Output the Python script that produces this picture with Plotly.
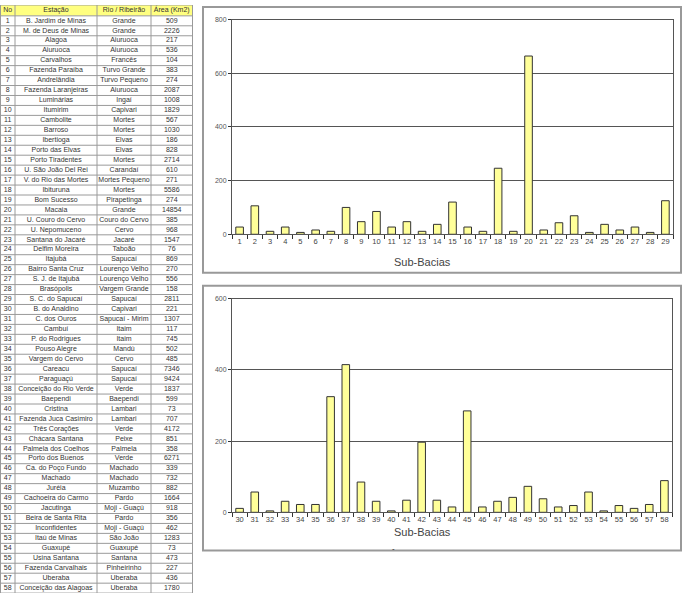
import plotly.graph_objects as go

no = list(range(1, 59))
estacao = ["B. Jardim de Minas", "M. de Deus de Minas", "Alagoa", "Aiuruoca", "Carvalhos",
           "Fazenda Paraíba", "Andrelândia", "Fazenda Laranjeiras", "Luminárias", "Itumirim",
           "Cambolite", "Barroso", "Ibertioga", "Porto das Elvas", "Porto Tiradentes",
           "U. São João Del Rei", "V. do Rio das Mortes", "Ibituruna", "Bom Sucesso", "Macaia",
           "U. Couro do Cervo", "U. Nepomuceno", "Santana do Jacaré", "Delfim Moreira", "Itajubá",
           "Bairro Santa Cruz", "S. J. de Itajubá", "Brasópolis", "S. C. do Sapucaí", "B. do Analdino",
           "C. dos Ouros", "Cambuí", "P. do Rodrigues", "Pouso Alegre", "Vargem do Cervo",
           "Careacu", "Paraguaçú", "Conceição do Rio Verde", "Baependi", "Cristina",
           "Fazenda Juca Casimiro", "Três Corações", "Chácara Santana", "Palmela dos Coelhos", "Porto dos Buenos",
           "Ca. do Poço Fundo", "Machado", "Juréia", "Cachoeira do Carmo", "Jacutinga",
           "Beira de Santa Rita", "Inconfidentes", "Itaú de Minas", "Guaxupé", "Usina Santana",
           "Fazenda Carvalhais", "Uberaba", "Conceição das Alagoas"]
rio = ["Grande", "Grande", "Aiuruoca", "Aiuruoca", "Francês",
       "Turvo Grande", "Turvo Pequeno", "Aiuruoca", "Ingaí", "Capivari",
       "Mortes", "Mortes", "Elvas", "Elvas", "Mortes",
       "Carandaí", "Mortes Pequeno", "Mortes", "Pirapetinga", "Grande",
       "Couro do Cervo", "Cervo", "Jacaré", "Taboão", "Sapucaí",
       "Lourenço Velho", "Lourenço Velho", "Vargem Grande", "Sapucaí", "Capivari",
       "Sapucaí - Mirim", "Itaim", "Itaim", "Mandú", "Cervo",
       "Sapucaí", "Sapucaí", "Verde", "Baependi", "Lambari",
       "Lambari", "Verde", "Peixe", "Palmela", "Verde",
       "Machado", "Machado", "Muzambo", "Pardo", "Moji - Guaçú",
       "Pardo", "Moji - Guaçú", "São João", "Guaxupé", "Santana",
       "Pinheirinho", "Uberaba", "Uberaba"]
area = [509, 2226, 217, 536, 104, 383, 274, 2087, 1008, 1829,
        567, 1030, 186, 828, 2714, 610, 271, 5586, 274, 14854,
        385, 968, 1547, 76, 869, 270, 556, 158, 2811, 221,
        1307, 117, 745, 502, 485, 7346, 9424, 1837, 599, 73,
        707, 4172, 851, 358, 6271, 339, 732, 882, 1664, 918,
        356, 462, 1283, 73, 473, 227, 436, 1780]
headers = ["No", "Estação", "Rio / Ribeirão", "Área (Km2)"]

sub1 = [str(i) for i in range(1, 30)]
val1 = [27, 106, 11, 27, 7, 16, 11, 100, 47, 85,
        27, 47, 11, 37, 120, 27, 11, 246, 11, 664,
        16, 43, 69, 7, 37, 16, 27, 7, 125]
sub2 = [str(i) for i in range(30, 59)]
val2 = [11, 57, 4, 31, 22, 22, 325, 415, 85, 31,
        4, 34, 197, 34, 15, 285, 15, 31, 42, 73,
        38, 15, 19, 57, 4, 19, 11, 22, 89]

W, H = 685, 600
FONT = "Arial, Liberation Sans, sans-serif"

def px(x):
    return x / W

def py(y):
    return 1 - y / H

# table geometry (in pixel-like units of its own axes)
HDR = 11.0
ROW = 10.07
col_edges = [0.5, 15, 97, 151, 192.5]
n = len(no)
tbl_h = HDR + n * ROW
TOP = 1.0
col_centers = [(col_edges[i] + col_edges[i + 1]) / 2 for i in range(4)]
row_centers = [HDR + (i + 0.5) * ROW for i in range(n)]

fig = go.Figure()

cell_font = dict(family=FONT, size=7, color="#333")
for ci, col in enumerate([no, estacao, rio, area]):
    fig.add_trace(go.Scatter(x=[col_centers[ci]] * n, y=row_centers, text=[str(v) for v in col],
                             mode="text", textposition="middle center", textfont=cell_font,
                             xaxis="x3", yaxis="y3", hoverinfo="skip"))
fig.add_trace(go.Scatter(x=col_centers, y=[HDR / 2] * 4, text=headers, mode="text",
                         textposition="middle center", textfont=cell_font,
                         xaxis="x3", yaxis="y3", hoverinfo="skip"))

bar_style = dict(marker=dict(color="#FFFF99", line=dict(color="#333333", width=1)))
fig.add_trace(go.Bar(x=sub1, y=val1, xaxis="x", yaxis="y", **bar_style))
fig.add_trace(go.Bar(x=sub2, y=val2, xaxis="x2", yaxis="y2", **bar_style))

shapes = [
    dict(type="rect", xref="x3", yref="y3", x0=col_edges[0], x1=col_edges[-1], y0=0, y1=HDR,
         fillcolor="#FFFF80", line=dict(width=0), layer="below"),
]
line_style = dict(color="#9a9a9a", width=1)
for k in range(n + 2):
    yy = 0 if k == 0 else HDR + (k - 1) * ROW
    shapes.append(dict(type="line", xref="x3", yref="y3", x0=col_edges[0], x1=col_edges[-1],
                       y0=yy, y1=yy, line=line_style))
for xe in col_edges:
    shapes.append(dict(type="line", xref="x3", yref="y3", x0=xe, x1=xe, y0=0, y1=tbl_h,
                       line=line_style))
shapes += [
    dict(type="rect", xref="paper", yref="paper", x0=px(203), x1=px(681), y0=py(3), y1=py(272),
         line=dict(color="#999999", width=2)),
    dict(type="rect", xref="paper", yref="paper", x0=px(203), x1=px(681), y0=py(285), y1=py(553),
         line=dict(color="#999999", width=2)),
]

xcommon = dict(type="category", tickson="boundaries", ticks="outside", ticklen=4, tickcolor="#333",
               showline=True, linecolor="#555", mirror=True, showgrid=False, tickangle=0,
               tickfont=dict(family=FONT, size=7.5, color="#444"), fixedrange=True)
ycommon = dict(dtick=200, ticks="outside", ticklen=3, tickcolor="#333", showline=True,
               linecolor="#555", mirror=True, showgrid=True, gridcolor="#555", gridwidth=1,
               tickfont=dict(family=FONT, size=7, color="#555"), zeroline=False, fixedrange=True)

fig.update_layout(
    width=W, height=H, margin=dict(l=0, r=0, t=0, b=0),
    paper_bgcolor="white", plot_bgcolor="white", showlegend=False, bargap=0.5,
    xaxis=dict(domain=[px(232), px(673)], anchor="y", **xcommon),
    yaxis=dict(domain=[py(233), py(15.7)], range=[0, 800], anchor="x", **ycommon),
    xaxis2=dict(domain=[px(232), px(672)], anchor="y2", **xcommon),
    yaxis2=dict(domain=[py(514.3), py(298.3)], range=[0, 600], anchor="x2", **ycommon),
    xaxis3=dict(domain=[0, px(194)], range=[0, 194], anchor="y3", visible=False, fixedrange=True),
    yaxis3=dict(domain=[py(TOP + tbl_h), py(TOP)], range=[tbl_h, 0], anchor="x3", visible=False,
                fixedrange=True),
    shapes=shapes,
    annotations=[
        dict(text="Sub-Bacias", x=px(422), y=py(261), xref="paper", yref="paper", showarrow=False,
             font=dict(family=FONT, size=11, color="#444")),
        dict(text="Sub-Bacias", x=px(422), y=py(542), xref="paper", yref="paper", showarrow=False,
             font=dict(family=FONT, size=11, color="#444")),
        dict(text="-", x=px(393), y=py(557), xref="paper", yref="paper", showarrow=False,
             font=dict(family=FONT, size=8, color="#222")),
    ],
)

fig.write_html("out.html", post_script="document.body.style.margin='0';",
               config={"displayModeBar": False})
